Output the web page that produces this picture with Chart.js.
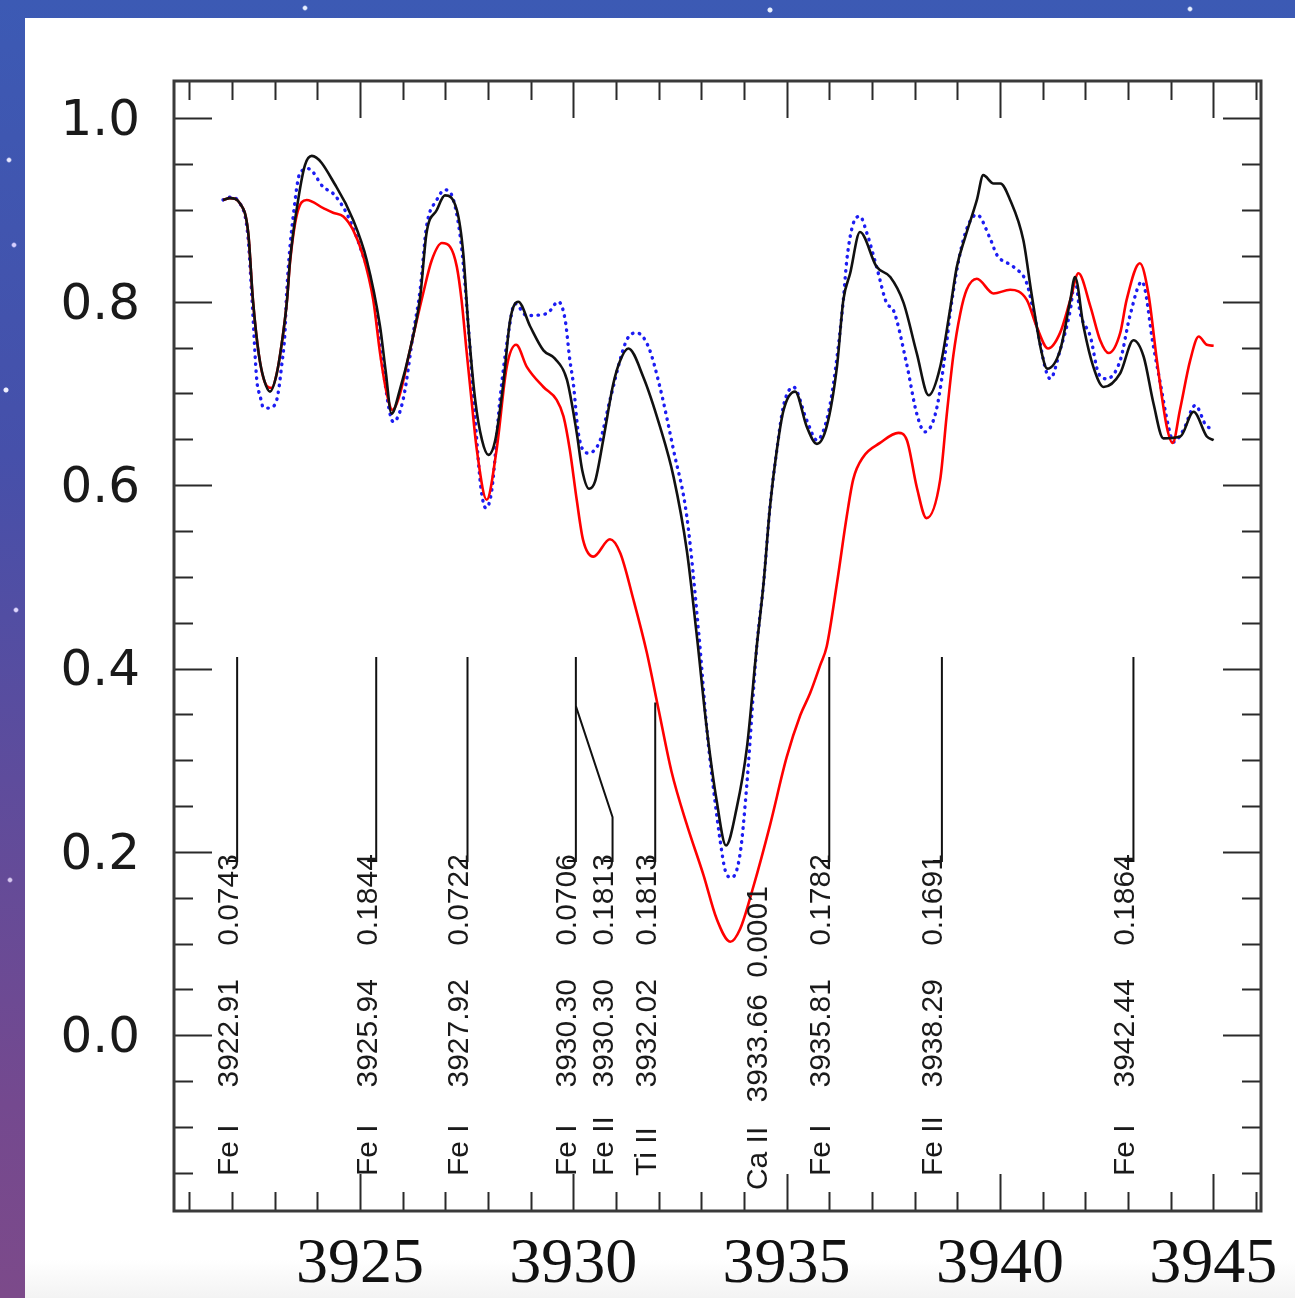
<!DOCTYPE html>
<html>
<head>
<meta charset="utf-8">
<script src="https://cdn.jsdelivr.net/npm/chart.js@4.4.1/dist/chart.umd.min.js"></script>
<style>
  html, body { margin: 0; padding: 0; }
  body {
    width: 1295px; height: 1298px; overflow: hidden; position: relative;
    background:
      radial-gradient(circle at 9px 160px, #e8e8ff 1.5px, transparent 3px),
      radial-gradient(circle at 14px 245px, #d8d0ff 1.5px, transparent 3px),
      radial-gradient(circle at 6px 390px, #f0f0ff 2px, transparent 3px),
      radial-gradient(circle at 16px 610px, #e0d8ff 1.5px, transparent 3px),
      radial-gradient(circle at 10px 880px, #d8c8f0 1.5px, transparent 3px),
      radial-gradient(circle at 305px 8px, #e8f0ff 1.5px, transparent 3px),
      radial-gradient(circle at 770px 10px, #e8f0ff 2px, transparent 3px),
      radial-gradient(circle at 1190px 9px, #e8f0ff 1.5px, transparent 3px),
      linear-gradient(180deg, #3c5ab4 0%, #4650aa 35%, #5e4c9c 60%, #74498f 85%, #7c4a8a 100%);
  }
  #panel {
    position: absolute; left: 25px; top: 18px; right: 0; bottom: 0;
    background: linear-gradient(180deg, #ffffff 0%, #ffffff 97%, #f3f3f3 100%);
  }
  canvas { position: absolute; left: 0; top: 0; }
</style>
</head>
<body>
<div id="panel"></div>
<canvas id="spectrumChart" width="1295" height="1298"></canvas>
<script>
// observed spectrum (black)
const obsWave = [3921.79, 3921.95, 3922.19, 3922.38, 3922.49, 3922.63, 3922.75, 3922.89, 3923.05, 3923.20,
  3923.29, 3923.36, 3923.55, 3923.71, 3923.87, 3924.45, 3924.84, 3925.16, 3925.47, 3925.60,
  3925.74, 3925.94, 3926.17, 3926.41, 3926.56, 3926.80, 3926.99, 3927.27, 3927.42, 3927.54,
  3927.70, 3927.86, 3928.01, 3928.17, 3928.36, 3928.52, 3928.71, 3928.99, 3929.30, 3929.57,
  3929.85, 3930.08, 3930.21, 3930.37, 3930.51, 3930.70, 3930.94, 3931.10, 3931.29, 3931.64,
  3932.03, 3932.35, 3932.66, 3932.89, 3933.13, 3933.36, 3933.58, 3933.83, 3934.07, 3934.30,
  3934.46, 3934.61, 3934.77, 3934.93, 3935.20, 3935.47, 3935.71, 3935.94, 3936.18, 3936.33,
  3936.49, 3936.72, 3937.11, 3937.43, 3937.74, 3938.05, 3938.33, 3938.60, 3938.83, 3938.99,
  3939.19, 3939.46, 3939.61, 3939.85, 3940.01, 3940.24, 3940.55, 3940.74, 3940.98, 3941.11,
  3941.41, 3941.65, 3941.76, 3941.96, 3942.19, 3942.43, 3942.82, 3943.13, 3943.37, 3943.60,
  3943.83, 3944.23, 3944.54, 3944.85, 3945.01];
const obsFlux = [0.911, 0.913, 0.907, 0.875, 0.802, 0.742, 0.715, 0.702, 0.722, 0.766,
  0.802, 0.845, 0.911, 0.949, 0.959, 0.925, 0.889, 0.845, 0.773, 0.725,
  0.678, 0.705, 0.747, 0.805, 0.875, 0.900, 0.916, 0.900, 0.853, 0.773,
  0.693, 0.649, 0.633, 0.649, 0.711, 0.780, 0.800, 0.773, 0.747, 0.738,
  0.715, 0.657, 0.616, 0.596, 0.604, 0.649, 0.711, 0.736, 0.749, 0.718,
  0.664, 0.609, 0.529, 0.438, 0.334, 0.256, 0.207, 0.248, 0.314, 0.424,
  0.493, 0.576, 0.638, 0.682, 0.702, 0.664, 0.645, 0.664, 0.729, 0.802,
  0.831, 0.876, 0.838, 0.827, 0.799, 0.744, 0.698, 0.729, 0.791, 0.838,
  0.871, 0.911, 0.938, 0.929, 0.929, 0.911, 0.867, 0.809, 0.744, 0.727,
  0.747, 0.802, 0.827, 0.773, 0.729, 0.707, 0.722, 0.758, 0.740, 0.689,
  0.651, 0.653, 0.680, 0.653, 0.649];

// synthetic spectrum (blue dotted)
const synWave = [3921.79, 3921.95, 3922.19, 3922.37, 3922.47, 3922.58, 3922.66, 3922.73, 3922.84, 3923.01,
  3923.08, 3923.16, 3923.24, 3923.28, 3923.48, 3923.59, 3923.79, 3924.14, 3924.37, 3924.69,
  3925.00, 3925.31, 3925.54, 3925.78, 3926.01, 3926.25, 3926.41, 3926.56, 3926.80, 3926.99,
  3927.19, 3927.38, 3927.54, 3927.70, 3927.84, 3927.95, 3928.09, 3928.28, 3928.48, 3928.63,
  3928.91, 3929.38, 3929.65, 3929.81, 3929.92, 3930.00, 3930.12, 3930.35, 3930.63, 3930.86,
  3931.25, 3931.49, 3931.76, 3932.03, 3932.35, 3932.66, 3932.94, 3933.13, 3933.32, 3933.44,
  3933.56, 3933.71, 3933.91, 3934.07, 3934.30, 3934.46, 3934.61, 3934.77, 3934.93, 3935.16,
  3935.47, 3935.71, 3935.94, 3936.10, 3936.33, 3936.41, 3936.56, 3936.72, 3936.88, 3937.11,
  3937.35, 3937.50, 3937.81, 3938.05, 3938.24, 3938.51, 3938.75, 3938.83, 3939.14, 3939.46,
  3939.77, 3939.93, 3940.32, 3940.63, 3940.83, 3941.18, 3941.41, 3941.65, 3941.76, 3941.88,
  3942.12, 3942.31, 3942.50, 3942.82, 3943.05, 3943.33, 3943.60, 3943.76, 3943.95, 3944.07,
  3944.30, 3944.58, 3944.85, 3945.01];
const synFlux = [0.911, 0.914, 0.907, 0.873, 0.802, 0.715, 0.697, 0.685, 0.684, 0.688,
  0.700, 0.729, 0.766, 0.809, 0.911, 0.940, 0.945, 0.925, 0.918, 0.896,
  0.860, 0.809, 0.726, 0.669, 0.693, 0.766, 0.813, 0.882, 0.911, 0.922,
  0.911, 0.860, 0.773, 0.671, 0.595, 0.575, 0.595, 0.693, 0.766, 0.798,
  0.785, 0.787, 0.800, 0.780, 0.736, 0.711, 0.656, 0.635, 0.649, 0.693,
  0.758, 0.766, 0.751, 0.707, 0.638, 0.566, 0.439, 0.334, 0.256, 0.213,
  0.180, 0.172, 0.198, 0.275, 0.424, 0.493, 0.576, 0.638, 0.687, 0.707,
  0.671, 0.649, 0.671, 0.711, 0.802, 0.845, 0.885, 0.893, 0.875, 0.838,
  0.798, 0.791, 0.733, 0.678, 0.658, 0.682, 0.755, 0.787, 0.867, 0.895,
  0.869, 0.851, 0.838, 0.820, 0.780, 0.716, 0.747, 0.791, 0.824, 0.788,
  0.762, 0.722, 0.716, 0.736, 0.785, 0.822, 0.751, 0.711, 0.664, 0.647,
  0.660, 0.687, 0.664, 0.662];

// model spectrum (red)
const redWave = [3921.79, 3921.95, 3922.19, 3922.38, 3922.49, 3922.63, 3922.77, 3922.93, 3923.05, 3923.20,
  3923.29, 3923.36, 3923.52, 3923.75, 3924.14, 3924.37, 3924.61, 3924.84, 3925.08, 3925.31,
  3925.47, 3925.61, 3925.76, 3925.94, 3926.17, 3926.48, 3926.68, 3926.92, 3927.11, 3927.27,
  3927.38, 3927.50, 3927.62, 3927.74, 3927.97, 3928.20, 3928.44, 3928.66, 3928.91, 3929.30,
  3929.61, 3929.77, 3929.92, 3930.08, 3930.23, 3930.47, 3930.86, 3931.10, 3931.41, 3931.72,
  3932.00, 3932.30, 3932.66, 3933.05, 3933.36, 3933.68, 3933.91, 3934.22, 3934.61, 3935.00,
  3935.32, 3935.55, 3935.79, 3935.94, 3936.18, 3936.41, 3936.56, 3936.80, 3937.19, 3937.62,
  3937.82, 3938.05, 3938.28, 3938.60, 3938.75, 3938.91, 3939.07, 3939.22, 3939.46, 3939.85,
  3940.24, 3940.63, 3940.86, 3941.13, 3941.41, 3941.65, 3941.84, 3942.12, 3942.35, 3942.55,
  3942.82, 3942.97, 3943.28, 3943.48, 3943.68, 3943.91, 3944.05, 3944.22, 3944.46, 3944.66,
  3944.85, 3945.01];
const redFlux = [0.911, 0.913, 0.907, 0.875, 0.802, 0.742, 0.712, 0.706, 0.722, 0.766,
  0.802, 0.843, 0.895, 0.911, 0.902, 0.897, 0.893, 0.878, 0.849, 0.802,
  0.744, 0.704, 0.682, 0.700, 0.747, 0.809, 0.845, 0.864, 0.860, 0.838,
  0.802, 0.745, 0.690, 0.638, 0.584, 0.638, 0.729, 0.753, 0.729, 0.707,
  0.693, 0.675, 0.638, 0.584, 0.540, 0.522, 0.541, 0.526, 0.475, 0.418,
  0.355, 0.288, 0.230, 0.175, 0.127, 0.102, 0.116, 0.162, 0.229, 0.303,
  0.349, 0.373, 0.404, 0.424, 0.493, 0.566, 0.606, 0.631, 0.646, 0.657,
  0.649, 0.598, 0.564, 0.606, 0.675, 0.742, 0.787, 0.813, 0.825, 0.809,
  0.813, 0.802, 0.773, 0.749, 0.766, 0.802, 0.831, 0.795, 0.758, 0.744,
  0.766, 0.802, 0.842, 0.809, 0.736, 0.664, 0.646, 0.682, 0.736, 0.762,
  0.753, 0.752];

// line identifications
const idNames = ['Fe I', 'Fe I', 'Fe I', 'Fe I', 'Fe II', 'Ti II', 'Ca II', 'Fe I', 'Fe II', 'Fe I'];
const idWaves = ['3922.91', '3925.94', '3927.92', '3930.30', '3930.30', '3932.02', '3933.66', '3935.81', '3938.29', '3942.44'];
const idEWs = ['0.0743', '0.1844', '0.0722', '0.0706', '0.1813', '0.1813', '0.0001', '0.1782', '0.1691', '0.1864'];
const idMarkX = [3922.12, 3925.38, 3927.52, 3930.06, 3930.92, 3931.92, 3934.54, 3936.00, 3938.64, 3943.13];
const idFromX = [3922.12, 3925.38, 3927.52, 3930.06, 3930.06, 3931.92, 3934.54, 3936.00, 3938.64, 3943.13];
const idTopY = [0.4125, 0.4125, 0.4125, 0.4125, 0.359, 0.363, null, 0.4125, 0.4125, 0.4125];
const idKinkY = [0.4125, 0.4125, 0.4125, 0.4125, 0.238, 0.363, null, 0.4125, 0.4125, 0.4125];
const idBottomY = 0.190;

// axes
const xTickLabels = [3925, 3930, 3935, 3940, 3945];
const yTickLabels = [0.0, 0.2, 0.4, 0.6, 0.8, 1.0];
const xRange = [3920.64, 3946.12];
const yRange = [-0.1916, 1.0407];

function toPoints(xs, ys) {
  return xs.map((v, i) => ({ x: v, y: ys[i] }));
}

// ticks on all four sides, drawn inward, plus the frame
const frameTicks = {
  id: 'frameTicks',
  afterDraw(chart) {
    const { ctx, chartArea: a, scales: { x, y } } = chart;
    ctx.save();
    ctx.strokeStyle = '#2a2a2a';
    ctx.lineWidth = 2;
    ctx.beginPath();
    for (let v = 3921; v <= 3946; v++) {
      const px = Math.round(x.getPixelForValue(v)) + 0.5;
      const len = xTickLabels.includes(v) ? 37 : 19;
      ctx.moveTo(px, a.top); ctx.lineTo(px, a.top + len);
      ctx.moveTo(px, a.bottom); ctx.lineTo(px, a.bottom - len);
    }
    for (let k = -3; k <= 20; k++) {
      const v = k * 0.05;
      const py = Math.round(y.getPixelForValue(v)) + 0.5;
      const len = (k % 4 === 0) ? 38 : 19;
      ctx.moveTo(a.left, py); ctx.lineTo(a.left + len, py);
      ctx.moveTo(a.right, py); ctx.lineTo(a.right - len, py);
    }
    ctx.stroke();
    ctx.strokeStyle = '#3a3a3a';
    ctx.lineWidth = 3;
    ctx.strokeRect(a.left, a.top, a.width, a.height);
    ctx.restore();
  }
};

// vertical markers and rotated labels of the identified lines
const lineIds = {
  id: 'lineIds',
  afterDatasetsDraw(chart) {
    const { ctx, scales: { x, y } } = chart;
    const yBottom = y.getPixelForValue(idBottomY);
    ctx.save();
    ctx.strokeStyle = '#111';
    ctx.lineWidth = 2;
    ctx.fillStyle = '#1a1a1a';
    ctx.font = '30px "Liberation Sans", Arial, sans-serif';
    ctx.textBaseline = 'alphabetic';
    for (let i = 0; i < idNames.length; i++) {
      const px = x.getPixelForValue(idMarkX[i]);
      const hasMark = idTopY[i] !== null;
      if (hasMark) {
        ctx.beginPath();
        ctx.moveTo(x.getPixelForValue(idFromX[i]), y.getPixelForValue(idTopY[i]));
        ctx.lineTo(px, y.getPixelForValue(idKinkY[i]));
        ctx.lineTo(px, yBottom);
        ctx.lineTo(px - 9, yBottom);
        ctx.stroke();
      }
      // Ca II has no marker and sits a little lower with tighter spacing
      const end = yBottom + (hasMark ? -7 : 25);
      const gapWave = hasMark ? 125 : 108;
      const gapName = hasMark ? 322 : 304;
      ctx.save();
      ctx.translate(px + 0.5, end);
      ctx.rotate(-Math.PI / 2);
      ctx.textAlign = 'right';
      ctx.fillText(idEWs[i], 0, 0);
      ctx.fillText(idWaves[i], -gapWave, 0);
      ctx.textAlign = 'left';
      ctx.fillText(idNames[i], -gapName, 0);
      ctx.restore();
    }
    ctx.restore();
  }
};

const ctx = document.getElementById('spectrumChart').getContext('2d');
const spectrumChart = new Chart(ctx, {
  type: 'line',
  data: {
    datasets: [
      {
        label: 'observed',
        data: toPoints(obsWave, obsFlux),
        borderColor: '#111111',
        borderWidth: 2.6,
        order: 0
      },
      {
        label: 'model',
        data: toPoints(redWave, redFlux),
        borderColor: '#ff0000',
        borderWidth: 2.6,
        order: 1
      },
      {
        label: 'synthetic',
        data: toPoints(synWave, synFlux),
        borderColor: '#1c1cf2',
        borderWidth: 3.4,
        borderDash: [0.5, 6.5],
        borderCapStyle: 'round',
        order: 2
      }
    ]
  },
  options: {
    responsive: false,
    animation: false,
    devicePixelRatio: 1,
    layout: { padding: { top: 81, right: 34, left: 0, bottom: 0 } },
    elements: {
      point: { radius: 0 },
      line: { cubicInterpolationMode: 'monotone', fill: false }
    },
    plugins: { legend: { display: false }, tooltip: { enabled: false } },
    scales: {
      x: {
        type: 'linear',
        min: xRange[0],
        max: xRange[1],
        grid: { display: false, drawTicks: false },
        border: { display: false },
        afterBuildTicks: s => { s.ticks = xTickLabels.map(v => ({ value: v })); },
        afterFit: s => { s.height = 87; },
        ticks: {
          padding: 16,
          maxRotation: 0,
          autoSkip: false,
          color: '#111',
          font: { family: '"Liberation Serif", "Times New Roman", serif', size: 64 },
          callback: v => String(v)
        }
      },
      y: {
        type: 'linear',
        min: yRange[0],
        max: yRange[1],
        grid: { display: false, drawTicks: false },
        border: { display: false },
        afterBuildTicks: s => { s.ticks = yTickLabels.map(v => ({ value: v })); },
        afterFit: s => { s.width = 174; },
        ticks: {
          padding: 34,
          labelOffset: 4,
          autoSkip: false,
          color: '#1a1a1a',
          font: { family: '"DejaVu Sans", sans-serif', size: 50 },
          callback: v => v.toFixed(1)
        }
      }
    }
  },
  plugins: [lineIds, frameTicks]
});
</script>
</body>
</html>
